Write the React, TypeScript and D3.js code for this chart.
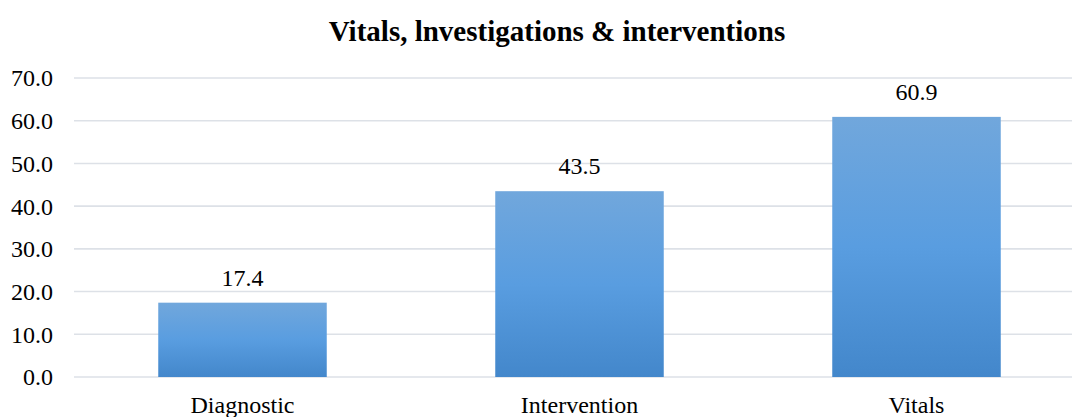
import { useMemo } from "react";
import * as d3 from "d3";

// ── Data ──────────────────────────────────────────────────────────────────────

const CATEGORIES = ["Diagnostic", "Intervention", "Vitals"];
const VALUES = [17.4, 43.5, 60.9];
const Y_TICKS = [0, 10, 20, 30, 40, 50, 60, 70];
const TITLE = "Vitals, lnvestigations & interventions";

const WIDTH = 1072;
const HEIGHT = 417;
const FONT = "'Liberation Serif', 'Times New Roman', serif";

// ── Component ─────────────────────────────────────────────────────────────────

export default function App() {
  const xScale = useMemo(
    () => d3.scaleBand<string>().domain(CATEGORIES).range([74, 1085]).paddingInner(0.5).paddingOuter(0.25),
    []
  );
  const yScale = useMemo(() => d3.scaleLinear().domain([0, 70]).range([377, 78]), []);

  return (
    <svg
      width={WIDTH}
      height={HEIGHT}
      style={{ position: "absolute", left: 0, top: 0, background: "#fff", fontFamily: FONT }}
    >
      <defs>
        <linearGradient id="barGrad" x1="0" y1="0" x2="0" y2="1">
          <stop offset="0%" stopColor="#71a7dc" />
          <stop offset="50%" stopColor="#599de0" />
          <stop offset="100%" stopColor="#4387cb" />
        </linearGradient>
      </defs>

      <text x={557} y={41} textAnchor="middle" fontSize={29} fontWeight="bold" fill="#000">
        {TITLE}
      </text>

      {/* Gridlines + y tick labels */}
      {Y_TICKS.map((t) => (
        <g key={t}>
          <line
            x1={74}
            x2={1085}
            y1={yScale(t)}
            y2={yScale(t)}
            stroke="#dde1e7"
            strokeWidth={1.6}
          />
          <text x={53} y={yScale(t)} dy="0.35em" textAnchor="end" fontSize={24} fill="#000">
            {d3.format(".1f")(t)}
          </text>
        </g>
      ))}

      {/* Bars */}
      {CATEGORIES.map((c, i) => (
        <g key={c}>
          <rect
            x={xScale(c)}
            y={yScale(VALUES[i])}
            width={xScale.bandwidth()}
            height={yScale(0) - yScale(VALUES[i])}
            fill="url(#barGrad)"
          />
          <text
            x={xScale(c)! + xScale.bandwidth() / 2}
            y={yScale(VALUES[i]) - 17}
            textAnchor="middle"
            fontSize={24}
            fill="#000"
          >
            {d3.format(".1f")(VALUES[i])}
          </text>
          <text
            x={xScale(c)! + xScale.bandwidth() / 2}
            y={413}
            textAnchor="middle"
            fontSize={24}
            fill="#000"
          >
            {c}
          </text>
        </g>
      ))}
    </svg>
  );
}
